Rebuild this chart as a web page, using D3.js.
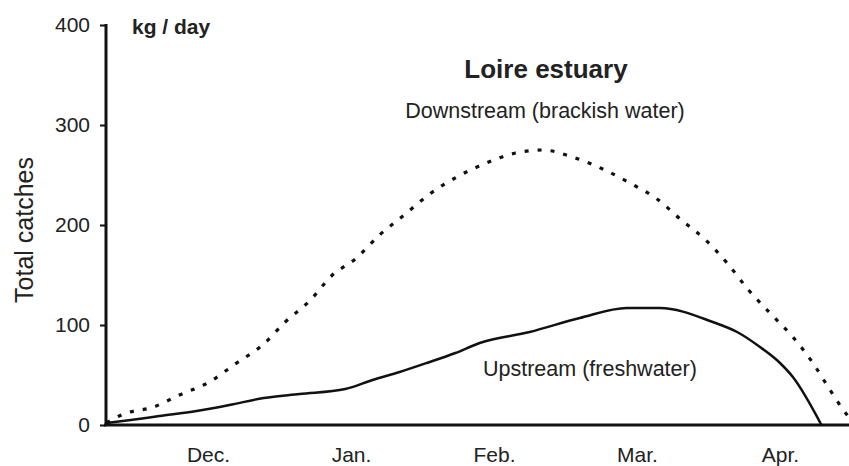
<!DOCTYPE html>
<html>
<head>
<meta charset="utf-8">
<script src="https://cdn.jsdelivr.net/npm/d3@7"></script>
<style>
  body { margin: 0; background: white; }
  text { font-family: "Liberation Sans", Arial, sans-serif; fill: #222; }
</style>
</head>
<body>
<div id="viz-container"></div>
<script>
let w = 849;
let h = 466;

// month labels sit at 1..5
let months = ["Dec.", "Jan.", "Feb.", "Mar.", "Apr."];
let yTicks = [0, 100, 200, 300, 400];

// upstream (freshwater), x in month units
let upX = [0.29, 0.46, 0.66, 0.92, 1.15, 1.39, 1.64, 1.96, 2.15, 2.34, 2.53, 2.73, 2.90, 3.25, 3.60, 3.93, 4.16, 4.53, 4.70, 4.86, 5.00, 5.09, 5.29];
let upY = [2, 5, 9, 14, 20, 27, 31, 36, 45, 53, 62, 72, 82, 93, 107, 117, 117, 103, 93, 78, 62, 48, 0];

// downstream (brackish water)
let downX = [0.29, 0.41, 0.62, 0.80, 1.01, 1.19, 1.39, 1.54, 1.71, 1.87, 2.03, 2.20, 2.38, 2.55, 2.74, 2.93, 3.15, 3.34, 3.55, 3.76, 3.95, 4.14, 4.31, 4.48, 4.63, 4.78, 4.93, 5.09, 5.23, 5.35, 5.47, 5.52];
let downY = [2, 11, 18, 30, 43, 61, 81, 103, 124, 150, 166, 190, 211, 231, 248, 261, 272, 275, 268, 256, 242, 226, 205, 185, 162, 135, 112, 88, 62, 35, 10, 2];

let viz = d3.select("#viz-container")
  .append("svg")
    .attr("width", w)
    .attr("height", h)
    .style("background-color", "white");

let x = d3.scaleLinear().domain([1, 5]).range([208, 780]);
let y = d3.scaleLinear().domain([0, 400]).range([425, 25]);

let x0 = x.invert(106);
let x1 = x.invert(852);

// y axis
let yAxis = d3.axisLeft(y).tickValues(yTicks).tickSize(6).tickPadding(10);
let yg = viz.append("g").attr("transform", "translate(106,0)").call(yAxis);
yg.select(".domain").remove();
yg.selectAll(".tick line").attr("stroke", "#111").attr("stroke-width", 2);
yg.selectAll(".tick text").style("font-size", "21px").attr("fill", "#222");

viz.append("line")
  .attr("x1", 106).attr("x2", 106)
  .attr("y1", y(400) - 1).attr("y2", y(0) + 1)
  .attr("stroke", "#111").attr("stroke-width", 3);

// x axis (no ticks)
let xAxis = d3.axisBottom(x).tickValues([1, 2, 3, 4, 5])
  .tickFormat((d, i) => months[i]).tickSize(0).tickPadding(22);
let xg = viz.append("g").attr("transform", "translate(0," + y(0) + ")").call(xAxis);
xg.select(".domain").remove();
xg.selectAll(".tick text").style("font-size", "21px").attr("fill", "#222");

viz.append("line")
  .attr("x1", x(x0) - 2).attr("x2", x(x1))
  .attr("y1", y(0)).attr("y2", y(0))
  .attr("stroke", "#111").attr("stroke-width", 3);

// lines
let line = d3.line()
  .x(d => x(d[0]))
  .y(d => y(d[1]))
  .curve(d3.curveMonotoneX);

let upData = upX.map((d, i) => [d, upY[i]]);
let downData = downX.map((d, i) => [d, downY[i]]);

viz.append("path")
  .datum(downData)
  .attr("d", line)
  .attr("fill", "none")
  .attr("stroke", "#111")
  .attr("stroke-width", 3.2)
  .attr("stroke-dasharray", "4,9");

viz.append("path")
  .datum(upData)
  .attr("d", line)
  .attr("fill", "none")
  .attr("stroke", "#111")
  .attr("stroke-width", 2.5);

// texts
viz.append("text")
  .attr("transform", "translate(33,230) rotate(-90)")
  .attr("text-anchor", "middle")
  .style("font-size", "25px")
  .text("Total catches");

viz.append("text")
  .attr("x", 132).attr("y", 34)
  .style("font-size", "21px")
  .style("font-weight", "bold")
  .text("kg / day");

viz.append("text")
  .attr("x", 546).attr("y", 78)
  .attr("text-anchor", "middle")
  .style("font-size", "26px")
  .style("font-weight", "bold")
  .text("Loire estuary");

viz.append("text")
  .attr("x", 545).attr("y", 118)
  .attr("text-anchor", "middle")
  .style("font-size", "21.5px")
  .text("Downstream (brackish water)");

viz.append("text")
  .attr("x", 483).attr("y", 376)
  .style("font-size", "21.5px")
  .text("Upstream (freshwater)");
</script>
</body>
</html>
